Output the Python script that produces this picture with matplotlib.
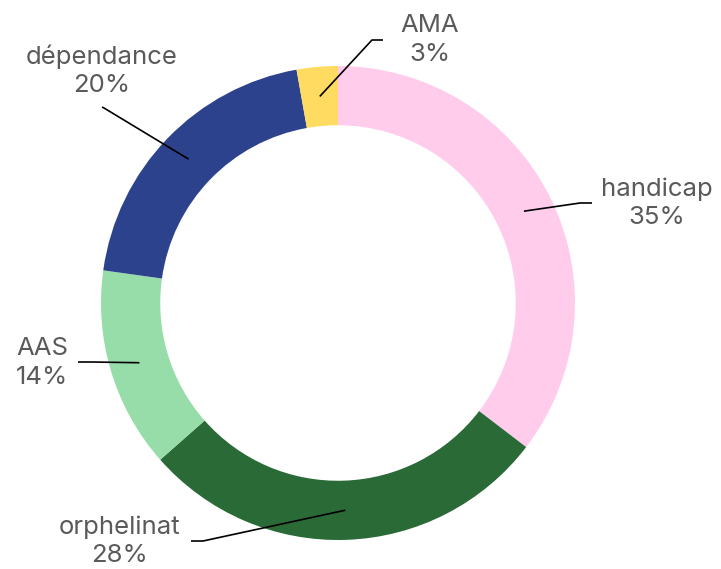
import matplotlib.pyplot as plt
import numpy as np

labels = ["handicap", "orphelinat", "AAS", "dépendance", "AMA"]
shares = [35.4, 28.1, 13.7, 20.0, 2.8]
colors = ["#FFCCEC", "#2A6A37", "#97DDAA", "#2C428C", "#FFDB62"]

# label layout in pixels: text centre, elbow point, line end next to text
text_pos = [(657, 203), (120, 541), (42, 363), (102, 71), (430, 40)]
elbow_pos = [(580, 203), (203, 541), (92, 362), (104, 108), (372, 40)]
end_pos = [(592, 203), (191, 541), (78, 362), (102, 107), (383, 40)]

W, H = 721, 569
cx, cy, R = 338, 303, 237

def px(p):
    return ((p[0] - cx) / R, (cy - p[1]) / R)

plt.rcParams['font.family'] = ['Inter', 'DejaVu Sans']
fig = plt.figure(figsize=(W / 100, H / 100), dpi=100)
ax = fig.add_axes([0, 0, 1, 1])
ax.pie(shares, colors=colors, radius=1, startangle=90, counterclock=False,
       wedgeprops=dict(width=0.25, linewidth=0))
ax.set_xlim(-cx / R, (W - cx) / R)
ax.set_ylim(-(H - cy) / R, cy / R)
ax.set_aspect('equal')
ax.axis('off')

total = sum(shares)
start = 90
for i, (lab, v) in enumerate(zip(labels, shares)):
    mid = np.deg2rad(start - v / total * 360 / 2)
    start -= v / total * 360
    r = 0.875
    p0 = (r * np.cos(mid), r * np.sin(mid))
    e = px(elbow_pos[i])
    q = px(end_pos[i])
    ax.plot([p0[0], e[0], q[0]], [p0[1], e[1], q[1]], color="black", lw=1.2,
            solid_capstyle='butt')
    t = px(text_pos[i])
    ax.text(t[0], t[1], f"{lab}\n{round(v)}%", ha="center", va="center",
            fontsize=18.5, color="#5a5a5a", linespacing=1.3)

fig.savefig("out.png", dpi=100)
